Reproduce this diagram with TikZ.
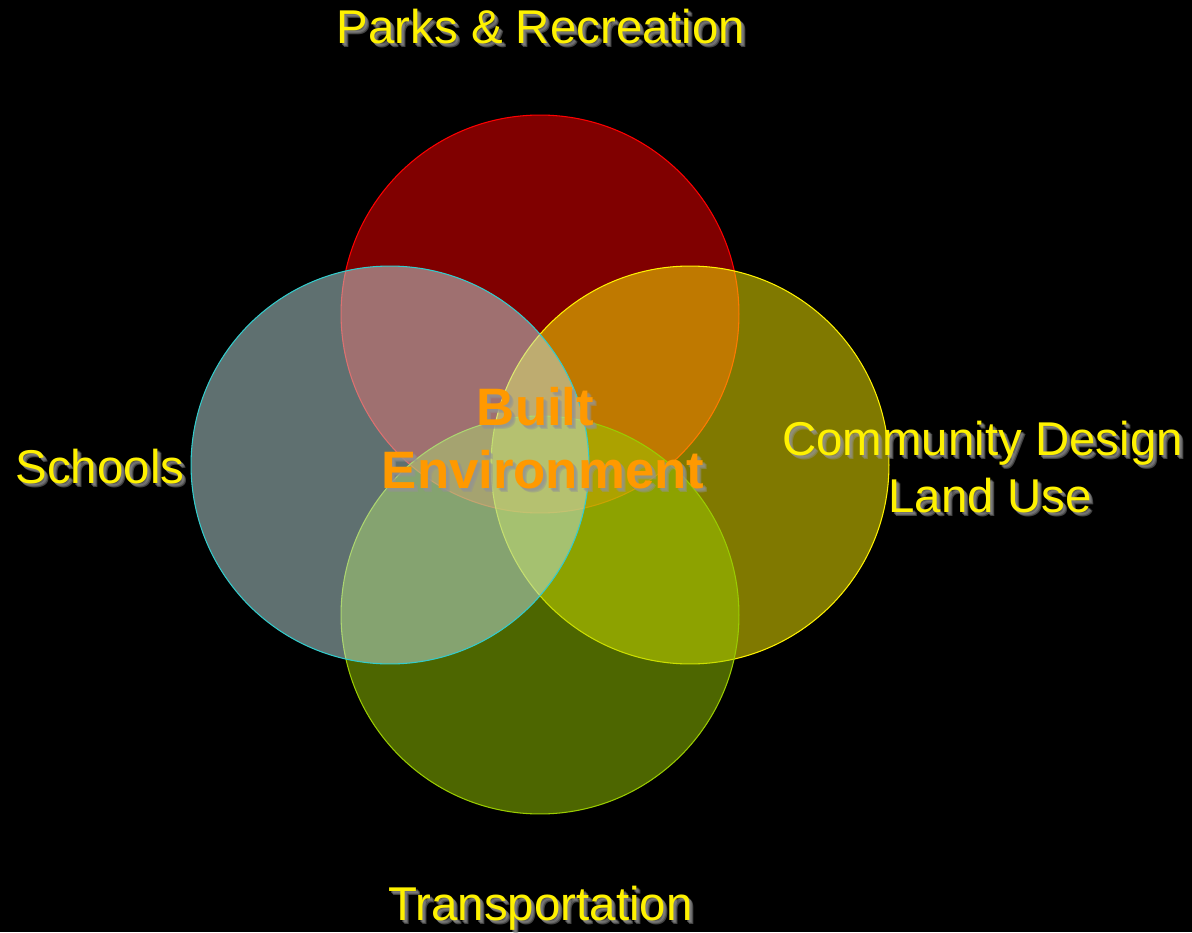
\documentclass[tikz,border=0pt]{standalone}
\usepackage{fontspec}
\setmainfont{Liberation Sans}
\definecolor{leafgreen}{RGB}{154,204,0}
\definecolor{paleteal}{RGB}{190,224,224}
\definecolor{tealline}{RGB}{51,204,204}
\definecolor{labelorange}{RGB}{255,153,0}
\tikzset{
  venn/.style={circle, inner sep=0pt, minimum size=7.96cm, line width=0.6pt, fill opacity=0.5},
  areatext/.style={inner sep=0pt, anchor=base, text=yellow, font=\fontsize{27}{32}\selectfont},
  coretext/.style={inner sep=0pt, anchor=base, text=labelorange, font=\bfseries\fontsize{30}{36}\selectfont},
  shade/.style={text=gray!85, text opacity=0.45}
}
\begin{document}
\begin{tikzpicture}[x=0.02cm,y=-0.02cm]
\fill[black] (0,0) rectangle (1192,932);
\useasboundingbox (0,0) rectangle (1192,932);

% the four circles
\node[venn, draw=red, fill=red] (parkscircle) at (540,314) {};
\node[venn, draw=yellow, fill=yellow] (communitycircle) at (690,465) {};
\node[venn, draw=leafgreen, fill=leafgreen] (transportcircle) at (540,615) {};
\node[venn, draw=tealline, fill=paleteal] (schoolscircle) at (390,465) {};

% labels with a soft shadow
\foreach \n/\x/\y/\t in {parks/541/44/Parks \& Recreation,schools/100/483/Schools,
    community/982.5/455/Community Design,landuse/990/512/Land Use,transport/540.5/920/Transportation}
{
    \foreach \d in {2,3,4}
        \node[areatext, shade] at (\x+\d,\y+\d) {\t};
    \node[areatext] (\n) at (\x,\y) {\t};
}
\foreach \n/\x/\y/\t in {built/535.5/425/Built,environment/543/488/Environment}
{
    \foreach \d in {2,3,4}
        \node[coretext, shade] at (\x+\d,\y+\d) {\t};
    \node[coretext] (\n) at (\x,\y) {\t};
}
\end{tikzpicture}
\end{document}
